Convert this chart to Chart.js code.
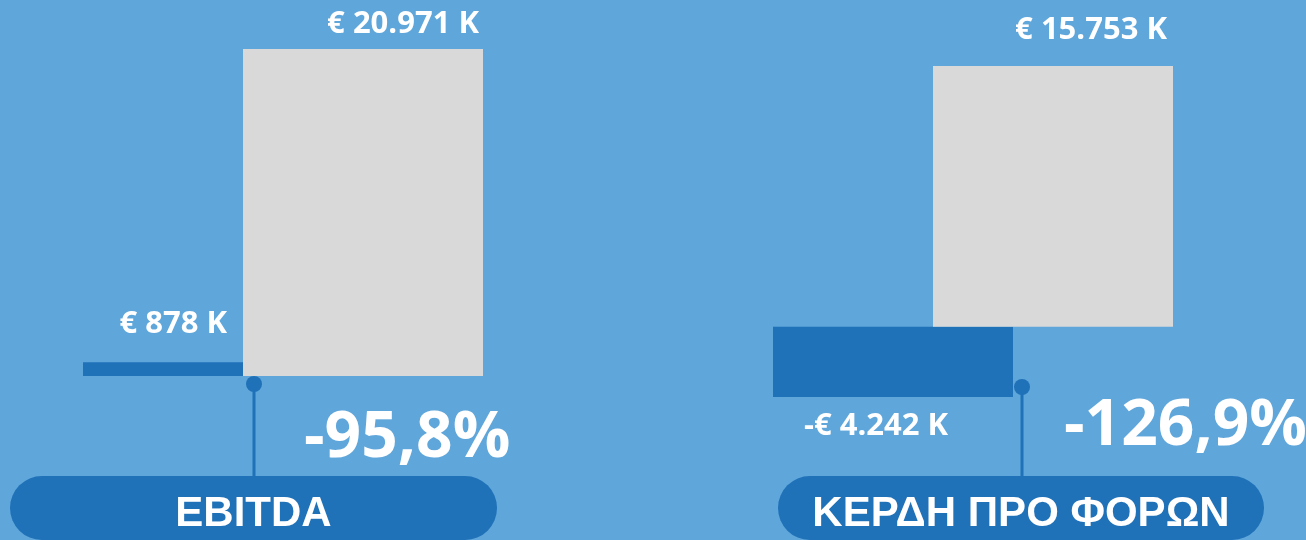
<!DOCTYPE html>
<html>
<head>
<meta charset="utf-8">
<script src="https://cdn.jsdelivr.net/npm/chart.js@4.4.1/dist/chart.umd.min.js"></script>
<style>
  html, body { margin: 0; padding: 0; background: #5FA6DB; }
  #wrap { position: relative; width: 1306px; height: 540px; overflow: hidden; background: #5FA6DB; }
  .panel { position: absolute; top: 0; width: 653px; height: 540px; }
</style>
</head>
<body>
<div id="wrap">
  <div class="panel" style="left:0"><canvas id="ebitdaChart" width="653" height="540"></canvas></div>
  <div class="panel" style="left:653px"><canvas id="ebtChart" width="653" height="540"></canvas></div>
</div>
<script>
// values in thousand euro
const kpiTitles = ['EBITDA', 'ΚΕΡΔΗ ΠΡΟ ΦΟΡΩΝ'];
const previousValues = [878, -4242];
const currentValues = [20971, 15753];
const periodPositions = [0, 1]; // previous, current

const BLUE = '#1F71B8';
const GREY = '#D9D9D9';

function fmtK(v) {
  const s = String(Math.abs(v)).replace(/\B(?=(\d{3})+(?!\d))/g, '.');
  return (v < 0 ? '-' : '') + '€ ' + s + ' K';
}
function fmtPct(prev, curr) {
  const p = (prev - curr) / Math.abs(curr) * 100;
  return p.toFixed(1).replace('.', ',') + '%';
}

// text / decoration placement per panel (canvas coords)
const panelLayouts = [
  {
    padding: { left: 83, right: 170, top: 49, bottom: 164 },
    currLabel: { x: 479, y: 33, align: 'right' },
    prevLabel: { x: 227, y: 333, align: 'right' },
    pct: { x: 304, y: 457 },
    dot: { x: 254, y: 384 },
    pill: { x: 10, w: 487 },
  },
  {
    padding: { left: 120, right: 133, top: 66, bottom: 143 },
    currLabel: { x: 514, y: 39, align: 'right' },
    prevLabel: { x: 151, y: 435, align: 'left' },
    pct: { x: 411, y: 445 },
    dot: { x: 369, y: 387 },
    pill: { x: 125, w: 486 },
  },
];

const kpiAnnotations = {
  id: 'kpiAnnotations',
  afterDatasetsDraw(chart, args, opts) {
    const ctx = chart.ctx;
    const L = panelLayouts[opts.index];
    const prev = previousValues[opts.index];
    const curr = currentValues[opts.index];
    ctx.save();
    ctx.fillStyle = '#FFFFFF';
    ctx.textBaseline = 'alphabetic';

    ctx.font = 'bold 31px "Open Sans"';
    ctx.textAlign = L.currLabel.align;
    ctx.fillText(fmtK(curr), L.currLabel.x, L.currLabel.y);
    ctx.textAlign = L.prevLabel.align;
    ctx.fillText(fmtK(prev), L.prevLabel.x, L.prevLabel.y);

    ctx.font = 'bold 64px "Open Sans"';
    ctx.textAlign = 'left';
    ctx.fillText(fmtPct(prev, curr), L.pct.x, L.pct.y);

    // connector
    ctx.strokeStyle = BLUE;
    ctx.lineWidth = 3;
    ctx.beginPath();
    ctx.moveTo(L.dot.x, L.dot.y);
    ctx.lineTo(L.dot.x, 480);
    ctx.stroke();
    ctx.fillStyle = BLUE;
    ctx.beginPath();
    ctx.arc(L.dot.x, L.dot.y, 8, 0, Math.PI * 2);
    ctx.fill();

    // title pill
    ctx.beginPath();
    ctx.roundRect(L.pill.x, 476, L.pill.w, 64, 32);
    ctx.fill();
    ctx.fillStyle = '#FFFFFF';
    ctx.font = 'bold 42px "Liberation Sans"';
    ctx.textAlign = 'center';
    ctx.fillText(kpiTitles[opts.index], L.pill.x + L.pill.w / 2, 526);
    ctx.restore();
  }
};

function makePanel(canvasId, i) {
  const prev = previousValues[i];
  const curr = currentValues[i];
  return new Chart(document.getElementById(canvasId), {
    type: 'bar',
    data: {
      datasets: [
        {
          label: 'Previous',
          data: [{ x: periodPositions[0], y: prev }],
          backgroundColor: BLUE,
          order: 1,
        },
        {
          label: 'Current',
          data: [{ x: periodPositions[1], y: curr }],
          backgroundColor: GREY,
          order: 0,
        },
      ],
    },
    options: {
      responsive: false,
      animation: false,
      devicePixelRatio: 1,
      layout: { padding: panelLayouts[i].padding },
      datasets: {
        bar: {
          grouped: false,
          categoryPercentage: 1,
          barPercentage: 2.5,
          maxBarThickness: 240,
          borderWidth: 0,
          clip: false,
        },
      },
      scales: {
        x: {
          type: 'linear',
          display: false,
          offset: false,
          min: -0.75,
          max: 1.75,
          ticks: { stepSize: 1, includeBounds: false },
        },
        y: {
          display: false,
          min: Math.min(0, prev, curr),
          max: Math.max(0, prev, curr),
        },
      },
      plugins: {
        legend: { display: false },
        tooltip: { enabled: false },
        kpiAnnotations: { index: i },
      },
    },
    plugins: [kpiAnnotations],
  });
}

const ebitdaChart = makePanel('ebitdaChart', 0);
const ebtChart = makePanel('ebtChart', 1);
</script>
</body>
</html>
